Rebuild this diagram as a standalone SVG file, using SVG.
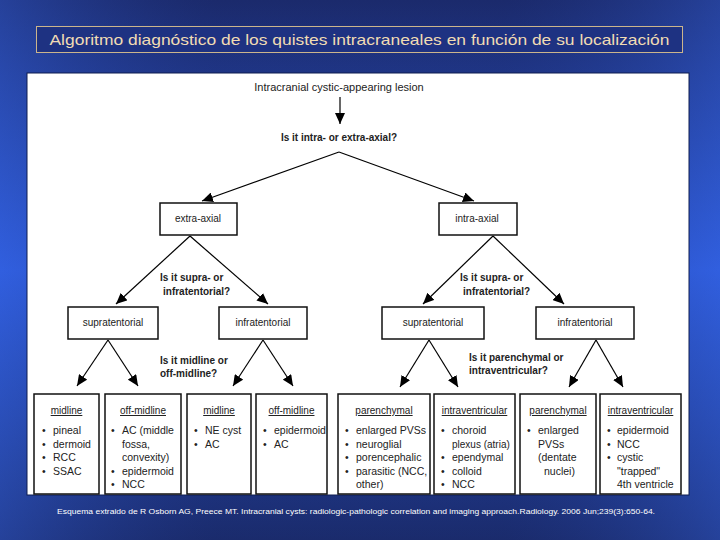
<svg xmlns="http://www.w3.org/2000/svg" width="720" height="540" viewBox="0 0 720 540">
<defs>
<linearGradient id="bg" x1="0" y1="0" x2="0" y2="1">
<stop offset="0" stop-color="#1b2a6c"/>
<stop offset="0.5" stop-color="#2c58d6"/>
<stop offset="1" stop-color="#1a2b6c"/>
</linearGradient>
<linearGradient id="side" x1="0" y1="0" x2="1" y2="0">
<stop offset="0" stop-color="#3a6cf0" stop-opacity="0.35"/>
<stop offset="0.3" stop-color="#1b2a6c" stop-opacity="0.15"/>
<stop offset="0.7" stop-color="#1b2a6c" stop-opacity="0.15"/>
<stop offset="1" stop-color="#3a6cf0" stop-opacity="0.35"/>
</linearGradient>
<marker id="ah" markerUnits="userSpaceOnUse" markerWidth="11" markerHeight="10" refX="11" refY="5" orient="auto">
<path d="M0,0 L11,5 L0,10 z" fill="#000"/>
</marker>
<style>
text{font-family:"Liberation Sans",Arial,sans-serif;fill:#222;}
.t{font-size:10px;}
.q{font-size:10px;font-weight:bold;}
.h{font-size:10px;text-decoration:underline;text-anchor:middle;}
.b{font-size:10.5px;}
.box{fill:#fff;stroke:#111;stroke-width:1.5;}
.c{stroke:#000;stroke-width:1.2;fill:none;marker-end:url(#ah);}
.mid{text-anchor:middle;}
</style>
</defs>
<rect x="0" y="0" width="720" height="540" fill="url(#bg)"/>
<rect x="0" y="0" width="720" height="540" fill="url(#side)"/>
<g id="title">
<rect x="36.5" y="26.5" width="646" height="26" fill="#1e3282" stroke="#cbb58c" stroke-width="1"/>
<text x="359.5" y="45" style="font-size:15px;fill:#f1dcb4;text-anchor:middle" textLength="620" lengthAdjust="spacingAndGlyphs">Algoritmo diagnóstico de los quistes intracraneales en función de su localización</text>
</g>
<rect id="panel" x="27" y="73" width="662" height="422" fill="#fff" stroke="#0e1c50" stroke-width="1"/>
<g id="connectors">
<line class="c" x1="340" y1="97" x2="340" y2="124"/>
<line class="c" x1="339" y1="152" x2="202" y2="201"/>
<line class="c" x1="339" y1="152" x2="474" y2="201"/>
<line class="c" x1="190" y1="236" x2="116" y2="304"/>
<line class="c" x1="190" y1="236" x2="268" y2="304"/>
<line class="c" x1="493" y1="236" x2="423" y2="304"/>
<line class="c" x1="493" y1="236" x2="564" y2="304"/>
<line class="c" x1="108" y1="340" x2="77" y2="386"/>
<line class="c" x1="108" y1="340" x2="138" y2="386"/>
<line class="c" x1="263" y1="340" x2="233" y2="386"/>
<line class="c" x1="263" y1="340" x2="293" y2="386"/>
<line class="c" x1="429" y1="340" x2="400" y2="387"/>
<line class="c" x1="429" y1="340" x2="458" y2="387"/>
<line class="c" x1="596" y1="340" x2="569" y2="387"/>
<line class="c" x1="596" y1="340" x2="623" y2="387"/>
</g>
<g id="start"><text class="mid" x="339" y="91" style="font-size:11px">Intracranial cystic-appearing lesion</text></g>
<g id="q1"><text class="q mid" x="339" y="141">Is it intra- or extra-axial?</text></g>
<g id="extra-axial"><rect class="box" x="160" y="203" width="77" height="32"/><text class="t mid" x="198" y="222">extra-axial</text></g>
<g id="intra-axial"><rect class="box" x="439" y="203" width="78" height="32"/><text class="t mid" x="477" y="222">intra-axial</text></g>
<g id="q2a"><text class="q" x="160" y="281">Is it supra- or</text><text class="q" x="163" y="295">infratentorial?</text></g>
<g id="q2b"><text class="q" x="460" y="281">Is it supra- or</text><text class="q" x="463" y="295">infratentorial?</text></g>
<g id="supra-l"><rect class="box" x="68" y="307" width="90" height="32"/><text class="t mid" x="113" y="326">supratentorial</text></g>
<g id="infra-l"><rect class="box" x="219" y="307" width="88" height="32"/><text class="t mid" x="263" y="326">infratentorial</text></g>
<g id="supra-r"><rect class="box" x="382" y="307" width="102" height="32"/><text class="t mid" x="433" y="326">supratentorial</text></g>
<g id="infra-r"><rect class="box" x="536" y="307" width="98" height="32"/><text class="t mid" x="585" y="326">infratentorial</text></g>
<g id="q3a"><text class="q" x="160" y="364">Is it midline or</text><text class="q" x="160" y="377">off-midline?</text></g>
<g id="q3b"><text class="q" x="469" y="361">Is it parenchymal or</text><text class="q" x="469" y="374">intraventricular?</text></g>
<g id="b1"><rect class="box" x="34" y="394" width="65" height="100"/><text class="h" x="66.5" y="414">midline</text>
<text class="b" x="42" y="434">•</text><text class="b" x="53" y="434">pineal</text>
<text class="b" x="42" y="447.5">•</text><text class="b" x="53" y="447.5">dermoid</text>
<text class="b" x="42" y="461">•</text><text class="b" x="53" y="461">RCC</text>
<text class="b" x="42" y="474.5">•</text><text class="b" x="53" y="474.5">SSAC</text></g>
<g id="b2"><rect class="box" x="105" y="394" width="76" height="100"/><text class="h" x="143" y="414">off-midline</text>
<text class="b" x="111" y="434">•</text><text class="b" x="122" y="434">AC (middle</text>
<text class="b" x="122" y="447.5">fossa,</text>
<text class="b" x="122" y="461">convexity)</text>
<text class="b" x="111" y="474.5">•</text><text class="b" x="122" y="474.5">epidermoid</text>
<text class="b" x="111" y="488">•</text><text class="b" x="122" y="488">NCC</text></g>
<g id="b3"><rect class="box" x="187" y="394" width="64" height="100"/><text class="h" x="219" y="414">midline</text>
<text class="b" x="194" y="434">•</text><text class="b" x="205" y="434">NE cyst</text>
<text class="b" x="194" y="447.5">•</text><text class="b" x="205" y="447.5">AC</text></g>
<g id="b4"><rect class="box" x="256" y="394" width="71" height="100"/><text class="h" x="291.5" y="414">off-midline</text>
<text class="b" x="263" y="434">•</text><text class="b" x="274" y="434">epidermoid</text>
<text class="b" x="263" y="447.5">•</text><text class="b" x="274" y="447.5">AC</text></g>
<g id="b5"><rect class="box" x="338" y="394" width="92" height="100"/><text class="h" x="384" y="414">parenchymal</text>
<text class="b" x="345" y="434">•</text><text class="b" x="356" y="434">enlarged PVSs</text>
<text class="b" x="345" y="447.5">•</text><text class="b" x="356" y="447.5">neuroglial</text>
<text class="b" x="345" y="461">•</text><text class="b" x="356" y="461">porencephalic</text>
<text class="b" x="345" y="474.5">•</text><text class="b" x="356" y="474.5">parasitic (NCC,</text>
<text class="b" x="356" y="488">other)</text></g>
<g id="b6"><rect class="box" x="434" y="394" width="81" height="100"/><text class="h" x="474.5" y="414">intraventricular</text>
<text class="b" x="441" y="434">•</text><text class="b" x="452" y="434">choroid</text>
<text class="b" x="452" y="447.5" style="font-size:10px">plexus (atria)</text>
<text class="b" x="441" y="461">•</text><text class="b" x="452" y="461">ependymal</text>
<text class="b" x="441" y="474.5">•</text><text class="b" x="452" y="474.5">colloid</text>
<text class="b" x="441" y="488">•</text><text class="b" x="452" y="488">NCC</text></g>
<g id="b7"><rect class="box" x="520" y="394" width="76" height="100"/><text class="h" x="558" y="414">parenchymal</text>
<text class="b" x="527" y="434">•</text><text class="b" x="538" y="434">enlarged</text>
<text class="b" x="538" y="447.5">PVSs</text>
<text class="b" x="538" y="461">(dentate</text>
<text class="b" x="544" y="474.5">nuclei)</text></g>
<g id="b8"><rect class="box" x="600" y="394" width="81" height="100"/><text class="h" x="640.5" y="414">intraventricular</text>
<text class="b" x="607" y="434">•</text><text class="b" x="617" y="434">epidermoid</text>
<text class="b" x="607" y="447.5">•</text><text class="b" x="617" y="447.5">NCC</text>
<text class="b" x="607" y="461">•</text><text class="b" x="617" y="461">cystic</text>
<text class="b" x="617" y="474.5">"trapped"</text>
<text class="b" x="617" y="488">4th ventricle</text></g>
<g id="footer"><text x="356" y="514" style="font-size:8px;fill:#fff;text-anchor:middle" textLength="598" lengthAdjust="spacingAndGlyphs">Esquema extraido de R Osborn AG, Preece MT. Intracranial cysts: radiologic-pathologic correlation and imaging approach.Radiology. 2006 Jun;239(3):650-64.</text></g>
</svg>
